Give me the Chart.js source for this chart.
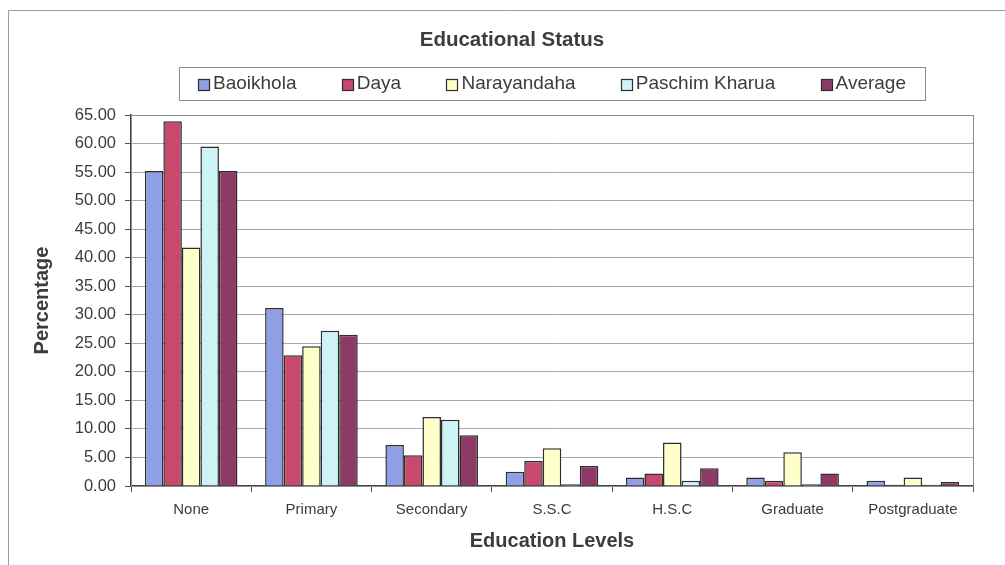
<!DOCTYPE html>
<html>
<head>
<meta charset="utf-8">
<script src="https://cdn.jsdelivr.net/npm/chart.js@4/dist/chart.umd.min.js"></script>
<style>
  html, body { margin: 0; padding: 0; background: #ffffff; }
  #wrap { width: 1005px; height: 565px; }
</style>
</head>
<body>
<div id="wrap"><canvas id="chart" width="1005" height="565"></canvas></div>
<script>
// Education levels (x categories)
const categories = ['None', 'Primary', 'Secondary', 'S.S.C', 'H.S.C', 'Graduate', 'Postgraduate'];

// Share of population (%) per village and the overall average
const baoikhola     = [55.2, 31.2, 7.2, 2.5, 1.5, 1.5, 0.9];
const daya          = [63.9, 22.9, 5.4, 4.4, 2.2, 0.9, 0.2];
const narayandaha   = [41.8, 24.5, 12.1, 6.6, 7.6, 5.9, 1.5];
const paschimKharua = [59.5, 27.2, 11.6, 0.3, 0.9, 0.3, 0.2];
const average       = [55.2, 26.5, 8.9, 3.5, 3.1, 2.2, 0.7];

// Y axis ticks
const yMin = 0, yMax = 65, yStep = 5;

const FONT = '"Liberation Sans", Arial, Helvetica, sans-serif';
const TEXT = '#3c3c3c';
const EDGE = '#2e2e2e';

const series = [
  { label: 'Baoikhola',      data: baoikhola,     color: '#8e9fe4' },
  { label: 'Daya',           data: daya,          color: '#c9496d' },
  { label: 'Narayandaha',    data: narayandaha,   color: '#ffffc9' },
  { label: 'Paschim Kharua', data: paschimKharua, color: '#cdf3f7' },
  { label: 'Average',        data: average,       color: '#8d3b66' }
];

// Outer frame, plot-area box and the boxed legend
const decorations = {
  id: 'decorations',
  beforeDatasetsDraw(chart) {
    const { ctx, chartArea: a } = chart;
    ctx.save();
    ctx.strokeStyle = '#8c8c8c';
    ctx.lineWidth = 1;
    ctx.strokeRect(Math.round(a.left) + 0.5, Math.round(a.top) + 0.5,
                   Math.round(a.right - a.left), Math.round(a.bottom - a.top));
    ctx.restore();
  },
  afterDraw(chart) {
    const { ctx, chartArea: a } = chart;
    ctx.save();
    // frame around the whole chart
    ctx.strokeStyle = '#9c9c9c';
    ctx.lineWidth = 1;
    ctx.beginPath();
    ctx.moveTo(8.5, chart.height);
    ctx.lineTo(8.5, 10.5);
    ctx.lineTo(chart.width, 10.5);
    ctx.stroke();

    // legend
    const boxW = 746, top = 67, h = 33;
    const cx = (a.left + a.right) / 2;
    const left = Math.round(cx - boxW / 2);
    ctx.strokeStyle = '#8c8c8c';
    ctx.strokeRect(left + 0.5, top + 0.5, boxW, h);

    ctx.font = '19px ' + FONT;
    ctx.textBaseline = 'middle';
    ctx.textAlign = 'left';
    const sw = 11, gapText = 4, inner = 19;
    const items = chart.data.datasets.map(ds => ({
      text: ds.label, fill: ds.backgroundColor, w: sw + gapText + ctx.measureText(ds.label).width
    }));
    const total = items.reduce((s, it) => s + it.w, 0);
    const gap = (boxW - 2 * inner - total) / (items.length - 1);
    const midY = top + h / 2 + 0.5;
    let x = left + inner;
    items.forEach(it => {
      ctx.fillStyle = it.fill;
      ctx.fillRect(Math.round(x) + 0.5, Math.round(midY - sw / 2) + 0.5, sw, sw);
      ctx.strokeStyle = EDGE;
      ctx.lineWidth = 1.2;
      ctx.strokeRect(Math.round(x) + 0.5, Math.round(midY - sw / 2) + 0.5, sw, sw);
      ctx.fillStyle = TEXT;
      ctx.fillText(it.text, x + sw + gapText, midY);
      x += it.w + gap;
    });
    ctx.restore();
  }
};

new Chart(document.getElementById('chart'), {
  type: 'bar',
  data: {
    labels: categories,
    datasets: series.map(s => ({
      label: s.label,
      data: s.data,
      backgroundColor: s.color,
      borderColor: EDGE,
      borderWidth: 1.5,
      categoryPercentage: 0.77,
      barPercentage: 1.0
    }))
  },
  options: {
    responsive: false,
    animation: false,
    devicePixelRatio: 1,
    layout: { padding: { left: 19, right: 0, top: 0, bottom: 0 } },
    plugins: {
      legend: { display: false },
      tooltip: { enabled: false },
      title: {
        display: true,
        text: 'Educational Status',
        color: TEXT,
        font: { family: FONT, size: 20.5, weight: 'bold', lineHeight: 1.2 },
        padding: { top: 28, bottom: 62.4 }
      }
    },
    scales: {
      x: {
        offset: true,
        grid: { display: true, drawOnChartArea: false, drawTicks: true, tickLength: 6, tickColor: '#555555', offset: true },
        border: { display: true, color: '#444444', width: 1.5 },
        ticks: { color: TEXT, font: { family: FONT, size: 15 }, padding: 9, maxRotation: 0, autoSkip: false },
        title: {
          display: true,
          text: 'Education Levels',
          color: TEXT,
          font: { family: FONT, size: 20, weight: 'bold', lineHeight: 1.2 },
          padding: { top: 0, bottom: 12 }
        },
        afterFit(scale) { scale.height = 79; }
      },
      y: {
        min: yMin,
        max: yMax,
        grid: { color: '#a8a8a8', lineWidth: 1, tickLength: 6, tickColor: '#555555' },
        border: { display: true, color: '#444444', width: 1.5 },
        ticks: {
          stepSize: yStep,
          color: TEXT,
          font: { family: FONT, size: 16.5 },
          padding: 9,
          callback: v => Number(v).toFixed(2)
        },
        title: {
          display: true,
          text: 'Percentage',
          color: TEXT,
          font: { family: FONT, size: 20, weight: 'bold', lineHeight: 1.2 },
          padding: { top: 11, bottom: 0 }
        },
        afterFit(scale) { scale.width = 112; }
      },
      right: {
        type: 'linear',
        position: 'right',
        display: true,
        grid: { display: false },
        border: { display: false },
        ticks: { display: false },
        afterFit(scale) { scale.width = 32; }
      }
    }
  },
  plugins: [decorations]
});
</script>
</body>
</html>
